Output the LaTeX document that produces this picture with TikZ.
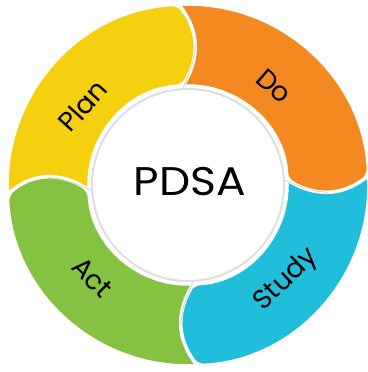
\documentclass[tikz,border=0pt]{standalone}
\usepackage{fontspec}
\setmainfont{Poppins}
\definecolor{pdsa_yellow}{RGB}{245, 208, 15}
\definecolor{pdsa_orange}{RGB}{245, 137, 33}
\definecolor{pdsa_cyan}{RGB}{33, 190, 219}
\definecolor{pdsa_green}{RGB}{134, 194, 65}
\tikzstyle{part}=[draw=white,line width=3.5pt,line join=round]
\tikzstyle{shade}=[gray!30,line width=1pt,line cap=round]
\tikzstyle{lbl}=[font=\fontsize{27}{27}\selectfont,inner sep=0pt]
\tikzstyle{hub}=[font=\fontsize{40}{40}\selectfont,inner sep=0pt,xscale=1.1]
% one quarter of the ring: from gap #1 clockwise to gap #2
\newcommand{\ringpart}[3]{%
  \path[part,fill=#3] (#1:99) .. controls ({#1-8}:126) and ({#1-8}:153) .. (#1:181)
    [rounded corners=7pt] arc[start angle=#1,end angle=#2,radius=181]
    .. controls ({#2-8}:153) and ({#2-8}:126) .. (#2:99)
    [sharp corners] arc[start angle=#2,end angle=#1,radius=99] -- cycle;}
% grey shadow in the inner half of a gap
\newcommand{\gapshade}[1]{%
  \draw[shade] (#1:97) .. controls ({#1-4}:112) and ({#1-6}:126) .. ({#1-6}:140);}

\begin{document}
\begin{tikzpicture}[x=1pt,y=1pt]
  \useasboundingbox (0,0) rectangle (367,372);
  \begin{scope}[shift={(188,187)}]
    \ringpart{183}{93}{pdsa_yellow}
    \ringpart{93}{3}{pdsa_orange}
    \ringpart{3}{-87}{pdsa_cyan}
    \ringpart{-87}{-177}{pdsa_green}
    \foreach \g in {183,93,3,-87}
      \gapshade{\g}
    \draw[gray!25,line width=1.5pt] (0,0) circle[radius=96];

    \node [style=hub] (pdsa) at (2,3) {PDSA};
    \node [style=lbl,rotate=48] (plan) at (143:132) {Plan};
    \node [style=lbl,rotate=-41] (do) at (49:131) {Do};
    \node [style=lbl,rotate=44] (study) at (-44:137) {Study};
    \node [style=lbl,rotate=-45] (act) at (-136:133) {Act};
  \end{scope}
\end{tikzpicture}
\end{document}
